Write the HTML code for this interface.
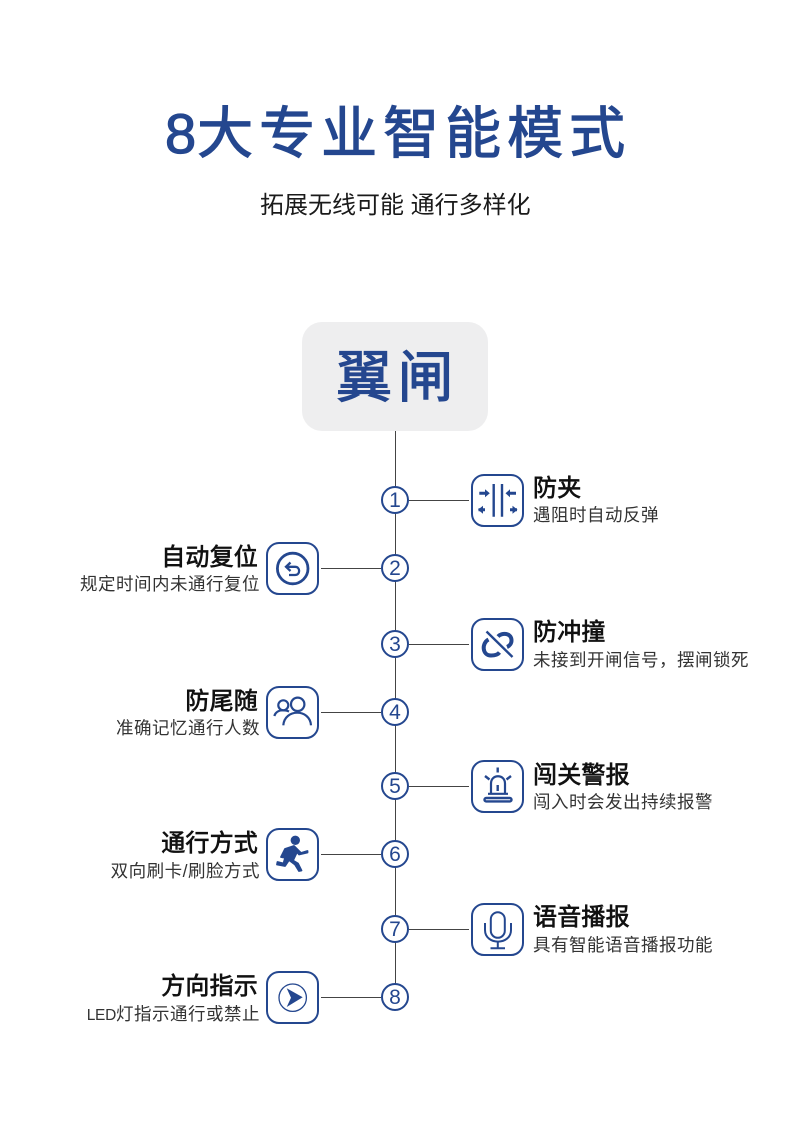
<!DOCTYPE html>
<html lang="zh">
<head>
<meta charset="utf-8">
<title>8大专业智能模式</title>
<style>
html,body{margin:0;padding:0;background:#fff}
#p{position:relative;width:790px;height:1137px;overflow:hidden;background:#fff;font-family:"Liberation Sans","Noto Sans CJK SC",sans-serif}
.a{position:absolute;white-space:nowrap}
.h{font-size:56px;line-height:70px;color:#24478f;-webkit-text-stroke:1.2px #24478f}
.t{font-size:24px;line-height:30px;height:30px;color:#111;font-weight:400;-webkit-text-stroke:.7px #111;letter-spacing:.2px}
.s{font-size:17.5px;line-height:24px;height:24px;color:#333;letter-spacing:.5px}
.r{left:533px;text-align:left}
.l{right:532px;text-align:right}
.s.l{right:530px}
.v{position:absolute;background:#444}
.b{position:absolute;width:53px;height:53px;border:2px solid #24478f;border-radius:13px;box-sizing:border-box}
.b svg{position:absolute;left:-2px;top:-2px;width:53px;height:53px}
.c{position:absolute;left:381px;width:24px;height:24px;border:2px solid #24478f;border-radius:50%;background:#fff;color:#24478f;font-size:21px;line-height:25px;text-align:center}
</style>
</head>
<body>
<div id="p">
<div class="a h" style="left:165px;top:99px;letter-spacing:6px;"><span style="letter-spacing:1px;">8</span>大专业智能模式</div>
<div class="a" style="left:260px;top:191px;font-size:24px;line-height:30px;color:#1a1a1a;">拓展无线可能 通行多样化</div>

<div class="a" style="left:302px;top:322px;width:186px;height:109px;background:#eeeeef;border-radius:20px;"></div>
<div class="a h" style="left:336px;top:343px;letter-spacing:5.500px;">翼闸</div>

<div class="v" style="left:395px;top:431px;width:1px;height:566px;"></div>
<div class="v" style="left:409px;top:500px;width:60px;height:1px;"></div>
<div class="v" style="left:321px;top:568px;width:60px;height:1px;"></div>
<div class="v" style="left:409px;top:644px;width:60px;height:1px;"></div>
<div class="v" style="left:321px;top:712px;width:60px;height:1px;"></div>
<div class="v" style="left:409px;top:786px;width:60px;height:1px;"></div>
<div class="v" style="left:321px;top:854px;width:60px;height:1px;"></div>
<div class="v" style="left:409px;top:929px;width:60px;height:1px;"></div>
<div class="v" style="left:321px;top:997px;width:60px;height:1px;"></div>

<div class="c" style="top:486px;">1</div>
<div class="c" style="top:554px;">2</div>
<div class="c" style="top:630px;">3</div>
<div class="c" style="top:698px;">4</div>
<div class="c" style="top:772px;">5</div>
<div class="c" style="top:840px;">6</div>
<div class="c" style="top:915px;">7</div>
<div class="c" style="top:983px;">8</div>

<!-- 1 -->
<div class="b" style="left:471px;top:474px;"><svg viewBox="0 0 53 53" fill="none" stroke="#24478f" stroke-width="2.4">
<path d="M22.700 10V42.700M31 10V42.700"/>
<path d="M8.300 19.300H15M38 19.300H45M7.500 35.700H14M39 35.700H46" stroke-width="3"/>
<path d="M14 15.300L18.800 19.300L14 23.300ZM39 15.300L34.500 19.300L39 23.300ZM12 31.700L7 35.700L12 39.700ZM41.500 31.700L46.500 35.700L41.500 39.700Z" fill="#24478f" stroke="none"/>
</svg></div>
<div class="a t r" style="top:474px;">防夹</div>
<div class="a s r" style="top:503px;">遇阻时自动反弹</div>

<!-- 2 -->
<div class="b" style="left:266px;top:542px;"><svg viewBox="0 0 53 53" fill="none" stroke="#24478f" stroke-width="2.800">
<circle cx="26.700" cy="26.500" r="15.300"/>
<path d="M21.500 24.800H29C34.500 24.800 34.500 33 29 33H23" stroke-width="2.300"/>
<path d="M24.500 20.500L20 24.800L24.500 29" stroke-width="2.300"/>
</svg></div>
<div class="a t l" style="top:543px;">自动复位</div>
<div class="a s l" style="top:572px;">规定时间内未通行复位</div>

<!-- 3 -->
<div class="b" style="left:471px;top:618px;"><svg viewBox="0 0 53 53" fill="none" stroke="#24478f" stroke-width="4">
<path d="M15.500 13.500L41.500 39" stroke-width="2.400"/>
<path d="M17.500 21.500C10.500 25 11 37.500 20 37.500C23.500 37.500 26.500 37 28.500 34.500"/>
<path d="M27 18.500C30.500 14.500 40.500 14.500 40.500 22.500C40.500 25.500 38.500 28 36 29"/>
</svg></div>
<div class="a t r" style="top:618px;">防冲撞</div>
<div class="a s r" style="top:648px;">未接到开闸信号，摆闸锁死</div>

<!-- 4 -->
<div class="b" style="left:266px;top:686px;"><svg viewBox="0 0 53 53" fill="none" stroke="#24478f" stroke-width="2.200">
<circle cx="31.700" cy="18.300" r="6.700"/>
<circle cx="17.300" cy="19.300" r="5"/>
<path d="M17.300 39.300C18.500 22.500 44 22.500 45 39.300"/>
<path d="M8.300 30C9.500 26 13 24.300 16.700 24.300C19 24.300 21 24.500 23 25.500"/>
</svg></div>
<div class="a t l" style="top:687px;">防尾随</div>
<div class="a s l" style="top:716px;">准确记忆通行人数</div>

<!-- 5 -->
<div class="b" style="left:471px;top:760px;"><svg viewBox="0 0 53 53" fill="none" stroke="#24478f" stroke-width="2.200">
<path d="M20 33V23.500C20 13.800 34 13.800 34 23.500V33"/>
<path d="M17 33.800H37"/>
<rect x="13.500" y="38" width="27" height="3.400" rx="1.700" stroke-width="2.400"/>
<path d="M26.700 25V31" stroke-width="2.400"/>
<path d="M26.700 7.500V12.500M14 16L18.500 19.500M40 16L35.500 19.500" stroke-width="2.400"/>
</svg></div>
<div class="a t r" style="top:761px;">闯关警报</div>
<div class="a s r" style="top:790px;">闯入时会发出持续报警</div>

<!-- 6 -->
<div class="b" style="left:266px;top:828px;"><svg viewBox="0 0 53 53" fill="#24478f" stroke="#24478f" stroke-width="1.800" stroke-linejoin="round">
<circle cx="29.300" cy="12.300" r="3.800"/>
<path d="M15 29L19 21L28 18L32 22L35 25L41.500 23L41.500 24.500L33 26.500L31 24L27 32.500L32 35.500L35.500 42.500L33 43L29 36.500L23 32L19 38L11 36.500L11.500 34L17.500 35.500L21 23L17.500 29.500Z"/>
</svg></div>
<div class="a t l" style="top:829px;">通行方式</div>
<div class="a s l" style="top:859px;">双向刷卡/刷脸方式</div>

<!-- 7 -->
<div class="b" style="left:471px;top:903px;"><svg viewBox="0 0 53 53" fill="none" stroke="#24478f" stroke-width="2">
<rect x="19.800" y="9.300" width="14" height="25.500" rx="7"/>
<path d="M14 20V27C14 42.500 40 42.500 40 27V20"/>
<path d="M26.800 38V45M19.500 45.300H34"/>
</svg></div>
<div class="a t r" style="top:903px;">语音播报</div>
<div class="a s r" style="top:933px;">具有智能语音播报功能</div>

<!-- 8 -->
<div class="b" style="left:266px;top:971px;"><svg viewBox="0 0 53 53" fill="none" stroke="#24478f" stroke-width="1.300">
<circle cx="26.700" cy="26.700" r="13.700"/>
<path d="M20.700 17.300L36.700 26.300L20.700 36L25 26.700Z" fill="#24478f" stroke="none"/>
</svg></div>
<div class="a t l" style="top:972px;">方向指示</div>
<div class="a s l" style="top:1002px;"><span style="font-size:15.500px;letter-spacing:-.3px;">LED</span>灯指示通行或禁止</div>
</div>
</body>
</html>
